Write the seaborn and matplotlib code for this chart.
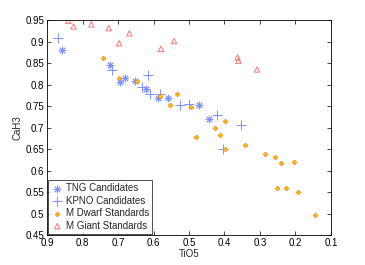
import matplotlib
matplotlib.use("Agg")
import matplotlib.pyplot as plt
import seaborn as sns
import pandas as pd

# TNG candidates
tng_tio5 = [0.857, 0.722, 0.693, 0.679, 0.652, 0.620, 0.586, 0.558, 0.473, 0.443]
tng_cah3 = [0.880, 0.845, 0.805, 0.815, 0.807, 0.789, 0.769, 0.768, 0.752, 0.719]

# KPNO candidates
kpno_tio5 = [0.870, 0.717, 0.631, 0.615, 0.611, 0.582, 0.525, 0.501, 0.420, 0.353, 0.403]
kpno_cah3 = [0.907, 0.834, 0.795, 0.823, 0.777, 0.777, 0.752, 0.754, 0.730, 0.705, 0.649]

# M dwarf standards
dwarf_tio5 = [0.743, 0.698, 0.647, 0.582, 0.534, 0.554, 0.495, 0.399, 0.427, 0.481, 0.413,
              0.399, 0.341, 0.285, 0.257, 0.242, 0.205, 0.253, 0.227, 0.194, 0.144]
dwarf_cah3 = [0.862, 0.816, 0.807, 0.774, 0.777, 0.753, 0.748, 0.714, 0.700, 0.677, 0.683,
              0.651, 0.659, 0.638, 0.631, 0.618, 0.620, 0.559, 0.560, 0.549, 0.496]

# M giant standards
giant_tio5 = [0.840, 0.825, 0.775, 0.726, 0.668, 0.697, 0.579, 0.542, 0.363, 0.361, 0.308]
giant_cah3 = [0.948, 0.935, 0.940, 0.931, 0.919, 0.896, 0.883, 0.901, 0.863, 0.855, 0.835]

sns.set_style("ticks")
plt.rcParams["font.family"] = ["Liberation Sans", "DejaVu Sans"]
plt.rcParams["xtick.direction"] = "in"
plt.rcParams["ytick.direction"] = "in"

fig = plt.figure(figsize=(3.65, 2.65), dpi=100)
ax = fig.add_axes([0.1288, 0.1132, 0.7780, 0.8113])

blue = "#7d93ff"
sns.scatterplot(x=tng_tio5, y=tng_cah3, ax=ax, marker=(8, 2, 0), s=24,
                color=blue, edgecolor=blue, linewidth=0.7, label="TNG Candidates")
sns.scatterplot(x=kpno_tio5, y=kpno_cah3, ax=ax, marker="+", s=45,
                color=blue, linewidth=0.7, label="KPNO Candidates")
sns.scatterplot(x=dwarf_tio5, y=dwarf_cah3, ax=ax, marker="D", s=5,
                color="#ffd400", edgecolor="#ff8a1c", linewidth=0.7, label="M Dwarf Standards")
sns.scatterplot(x=giant_tio5, y=giant_cah3, ax=ax, marker="^", s=15,
                facecolor="none", edgecolor="#ff7575", linewidth=0.7, label="M Giant Standards")

ax.set_xlim(0.9, 0.1)
ax.set_ylim(0.45, 0.95)
ax.set_xticks([0.9, 0.8, 0.7, 0.6, 0.5, 0.4, 0.3, 0.2, 0.1])
ax.set_xticklabels(["0.9", "0.8", "0.7", "0.6", "0.5", "0.4", "0.3", "0.2", "0.1"])
ax.set_yticks([0.45, 0.5, 0.55, 0.6, 0.65, 0.7, 0.75, 0.8, 0.85, 0.9, 0.95])
ax.set_yticklabels(["0.45", "0.5", "0.55", "0.6", "0.65", "0.7", "0.75", "0.8", "0.85", "0.9", "0.95"])
ax.tick_params(axis="both", labelsize=7, length=3, width=0.5, pad=2,
               top=True, right=True, colors="black")
for sp in ax.spines.values():
    sp.set_linewidth(0.6)
    sp.set_color("black")

ax.set_xlabel("TiO5", fontsize=7, labelpad=1)
ax.set_ylabel("CaH3", fontsize=7, labelpad=2)

leg = ax.legend(loc="lower left", fontsize=7, frameon=True, fancybox=False,
                borderaxespad=0.15, labelspacing=0.25, handletextpad=0.3,
                handlelength=1.2, borderpad=0.3)
leg.get_frame().set_edgecolor("black")
leg.get_frame().set_linewidth(0.6)

fig.savefig("out.png", dpi=100)
